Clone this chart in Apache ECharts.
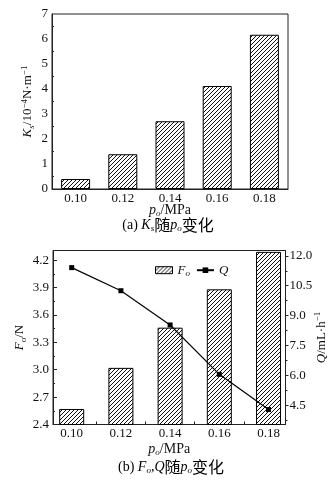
<!DOCTYPE html>
<html><head><meta charset="utf-8">
<script src="https://cdn.jsdelivr.net/npm/echarts@6/dist/echarts.min.js"></script>
<style>html,body{margin:0;padding:0;background:#fff}#c{width:336px;height:485px}</style>
</head><body><div id="c"></div>
<script>
// ---- data ----
const pressures = ['0.10', '0.12', '0.14', '0.16', '0.18'];
const pressureValues = [0.10, 0.12, 0.14, 0.16, 0.18];
const ksValues = [0.40, 1.39, 2.71, 4.12, 6.17];
const foValues = [2.57, 3.02, 3.46, 3.88, 4.29];
const qValues = [11.41, 10.25, 8.53, 6.05, 4.28];
const foTicks = [2.4, 2.7, 3.0, 3.3, 3.6, 3.9, 4.2];
const foMinorTicks = [2.55, 2.85, 3.15, 3.45, 3.75, 4.05];
const qTicks = [4.5, 6.0, 7.5, 9.0, 10.5, 12.0];
const qMinorTicks = [3.75, 5.25, 6.75, 8.25, 9.75, 11.25];
const pBoundaryTicks = [0.11, 0.13, 0.15, 0.17];

// ---- styling ----
const SERIF = '"Liberation Serif","Times New Roman",serif';
const CJK = '"Noto Sans CJK SC",sans-serif';
const INK = '#111';
const AX = '#222';
function rich(fs, cjkFs) {
  return {
    n: {fontFamily: SERIF, fontSize: fs, color: INK, lineHeight: 16},
    i: {fontFamily: SERIF, fontSize: fs, fontStyle: 'italic', color: INK, lineHeight: 16},
    sub: {fontFamily: SERIF, fontSize: 9, fontStyle: 'italic', color: INK, lineHeight: 8, verticalAlign: 'bottom'},
    sup: {fontFamily: SERIF, fontSize: 9, color: INK, lineHeight: 8, verticalAlign: 'top'},
    c: {fontFamily: CJK, fontSize: cjkFs || fs, color: INK, lineHeight: 16}
  };
}
function hatch() {
  const c = document.createElement('canvas');
  c.width = 4; c.height = 4;
  const g = c.getContext('2d');
  g.fillStyle = '#fff'; g.fillRect(0, 0, 4, 4);
  g.strokeStyle = '#111'; g.lineWidth = 1;
  g.beginPath();
  g.moveTo(-1, 5); g.lineTo(5, -1);
  g.moveTo(-1, 1); g.lineTo(1, -1);
  g.moveTo(3, 5); g.lineTo(5, 3);
  g.stroke();
  return c;
}
const pat = {image: hatch(), repeat: 'repeat'};
const barStyle = {color: pat, borderColor: '#000', borderWidth: 1};
const tickLabel = {fontFamily: SERIF, fontSize: 13, color: INK};
const axLine = {show: true, lineStyle: {color: AX, width: 1}};

const chart = echarts.init(document.getElementById('c'));
chart.setOption({
  animation: false,
  backgroundColor: '#fff',
  grid: [
    {left: 52, top: 14, width: 236, height: 175, show: true, borderColor: AX, borderWidth: 1, backgroundColor: 'transparent'},
    {left: 53, top: 250.5, width: 233, height: 174, show: true, borderColor: AX, borderWidth: 1, backgroundColor: 'transparent'}
  ],
  xAxis: [
    {
      gridIndex: 0, type: 'category', data: pressures,
      axisLine: axLine,
      axisTick: {inside: true, length: 3, lineStyle: {color: AX}},
      axisLabel: Object.assign({margin: 3}, tickLabel),
      name: '{i|p}{sub|o}{n|/MPa}', nameLocation: 'middle', nameGap: 13, nameMoveOverlap: false,
      nameTextStyle: {rich: rich(14)}
    },
    {
      gridIndex: 1, type: 'value', min: 0.0924, max: 0.1869,
      splitLine: {show: false},
      axisLine: axLine,
      axisTick: {inside: true, length: 3, customValues: pBoundaryTicks, lineStyle: {color: AX}},
      axisLabel: Object.assign({margin: 3, customValues: pressureValues, formatter: v => v.toFixed(2)}, tickLabel),
      name: '{i|p}{sub|o}{n|/MPa}', nameLocation: 'middle', nameGap: 17, nameMoveOverlap: false,
      nameTextStyle: {rich: rich(14)}
    }
  ],
  yAxis: [
    {
      gridIndex: 0, type: 'value', min: 0, max: 7, interval: 1,
      splitLine: {show: false},
      axisLine: axLine,
      axisTick: {inside: true, length: 4, lineStyle: {color: AX}},
      minorTick: {show: true, splitNumber: 2, length: 2, lineStyle: {color: AX}},
      axisLabel: Object.assign({margin: 4}, tickLabel),
      name: '{i|K}{sub|s}{n|/10}{sup|−4}{n|N·m}{sup|−1}', nameLocation: 'middle', nameGap: 16, nameMoveOverlap: false,
      nameTextStyle: {rich: rich(13)}
    },
    {
      gridIndex: 1, type: 'value', min: 2.4, max: 4.305, position: 'left',
      splitLine: {show: false},
      axisLine: axLine,
      axisTick: {inside: true, length: 4, customValues: foTicks, lineStyle: {color: AX}},
      axisLabel: Object.assign({margin: 4, customValues: foTicks, formatter: v => v.toFixed(1)}, tickLabel),
      name: '{i|F}{sub|o}{n|/N}', nameLocation: 'middle', nameGap: 25, nameMoveOverlap: false,
      nameTextStyle: {rich: rich(13)}
    },
    {
      gridIndex: 1, type: 'value', min: 2.4, max: 4.305, position: 'left',
      splitLine: {show: false},
      axisLine: {show: false},
      axisTick: {inside: true, length: 2, customValues: foMinorTicks, lineStyle: {color: AX}},
      axisLabel: {show: false}
    },
    {
      gridIndex: 1, type: 'value', min: 3.53, max: 12.27, position: 'right',
      splitLine: {show: false},
      axisLine: axLine,
      axisTick: {inside: false, length: 3, customValues: qTicks, lineStyle: {color: AX}},
      axisLabel: Object.assign({margin: 4, customValues: qTicks, formatter: v => v.toFixed(1)}, tickLabel),
      name: '{i|Q}{n|/mL·h}{sup|−1}', nameLocation: 'middle', nameGap: 28, nameMoveOverlap: false,
      nameTextStyle: {rich: rich(13)}
    },
    {
      gridIndex: 1, type: 'value', min: 3.53, max: 12.27, position: 'right',
      splitLine: {show: false},
      axisLine: {show: false},
      axisTick: {inside: false, length: 2, customValues: qMinorTicks, lineStyle: {color: AX}},
      axisLabel: {show: false}
    }
  ],
  legend: {
    left: 150, top: 258.7, itemWidth: 17, itemHeight: 7, itemGap: 6,
    selectedMode: false,
    textStyle: {rich: rich(13)},
    formatter: n => (n === 'Fo' ? '{i|F}{sub|o}' : '{i|Q}'),
    data: [
      {name: 'Fo', icon: 'rect', itemStyle: barStyle},
      {name: 'Q'}
    ]
  },
  graphic: [
    {type: 'text', x: 168, y: 225, style: {text: '{n|(a) }{i|K}{sub|s}{c|随}{i|p}{sub|o}{c|变化}', rich: rich(14, 16), align: 'center', verticalAlign: 'middle'}},
    {type: 'text', x: 171, y: 467, style: {text: '{n|(b) }{i|F}{sub|o}{n|,}{i|Q}{c|随}{i|p}{sub|o}{c|变化}', rich: rich(14, 16), align: 'center', verticalAlign: 'middle'}}
  ],
  series: [
    {type: 'bar', xAxisIndex: 0, yAxisIndex: 0, data: ksValues, barWidth: 29, itemStyle: barStyle},
    {name: 'Fo', type: 'bar', xAxisIndex: 1, yAxisIndex: 1,
     data: pressureValues.map((p, i) => [p, foValues[i]]), barWidth: 25, itemStyle: barStyle},
    {name: 'Q', type: 'line', xAxisIndex: 1, yAxisIndex: 3, z: 5,
     data: pressureValues.map((p, i) => [p, qValues[i]]),
     symbol: 'rect', symbolSize: 5,
     lineStyle: {color: '#000', width: 1.2}, itemStyle: {color: '#000'}}
  ]
});
</script>
</body></html>
